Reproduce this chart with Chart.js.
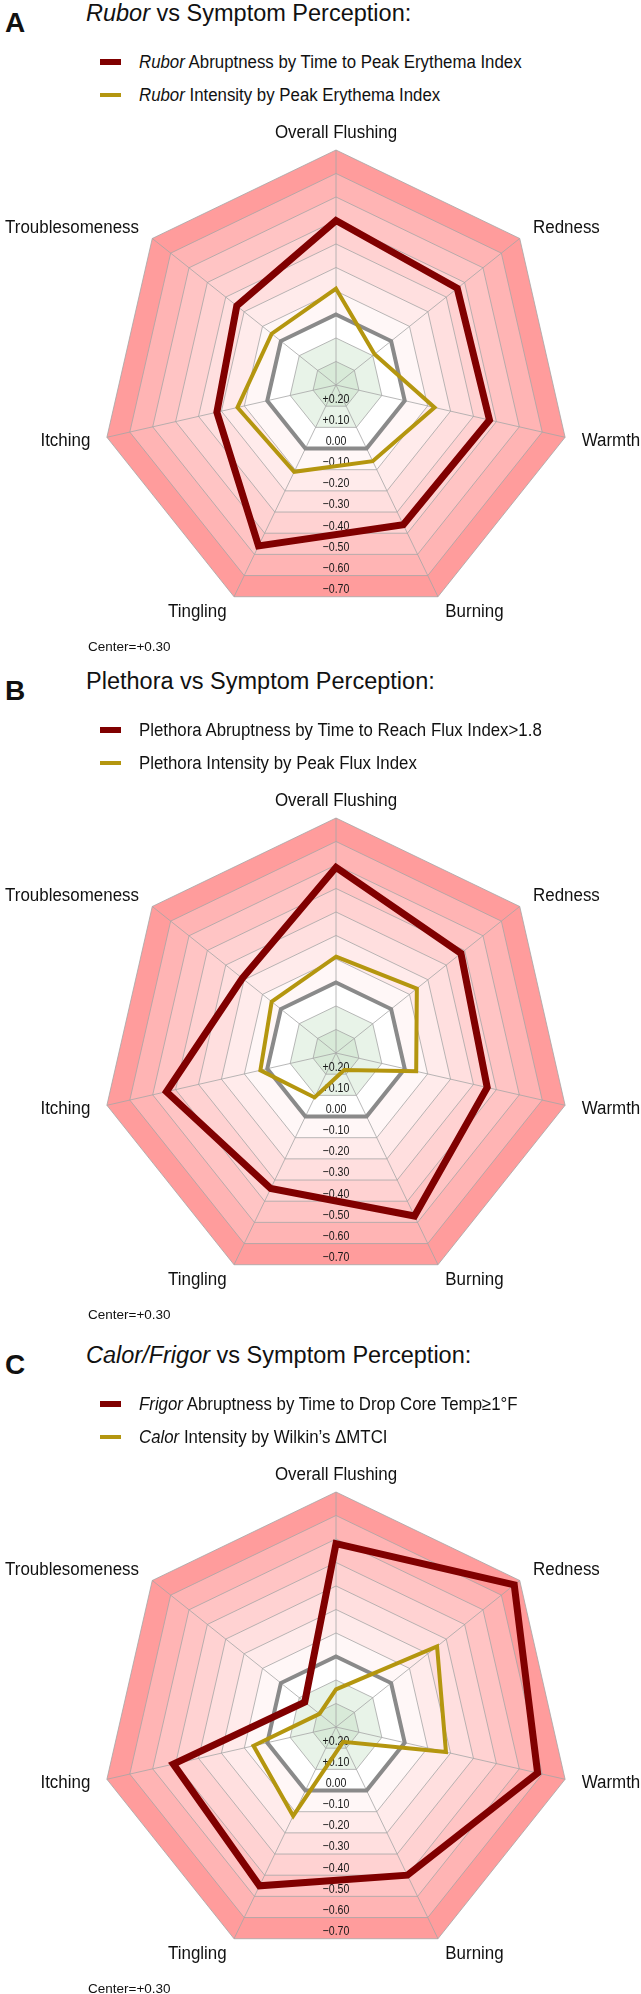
<!DOCTYPE html>
<html>
<head>
<meta charset="utf-8">
<script src="https://cdn.jsdelivr.net/npm/chart.js@4.4.0/dist/chart.umd.min.js"></script>
<style>
    body { margin: 0; width: 641px; height: 1994px; overflow: hidden; background: #fff; color: #111; font-family: "Liberation Sans", Arial, sans-serif; }
    .panel { position: absolute; left: 0; width: 641px; height: 668px; }
    .panel canvas { position: absolute; left: 0; top: 0; }
    .letter { position: absolute; left: 5px; top: 9px; font-size: 28px; line-height: 28px; font-weight: bold; }
    .title { position: absolute; left: 86px; top: 2px; font-size: 23.5px; line-height: 23px; white-space: nowrap; }
    .leg { position: absolute; left: 100px; height: 20px; width: 500px; }
    .leg .sw { position: absolute; left: 0; width: 21px; }
    .leg .t { position: absolute; left: 39px; top: 0; font-size: 18px; line-height: 20px; white-space: nowrap; transform: scaleX(0.935); transform-origin: 0 50%; }
    .center { position: absolute; left: 88px; top: 639px; font-size: 13.5px; line-height: 16px; }
</style>
</head>
<body>

<div class="panel" style="top:0px">
    <div class="letter">A</div>
    <div class="title"><i>Rubor</i> vs Symptom Perception:</div>
    <div class="leg" style="top:52px"><span class="sw" style="top:7px;height:6px;background:#800000"></span><span class="t"><i>Rubor</i> Abruptness by Time to Peak Erythema Index</span></div>
    <div class="leg" style="top:85px"><span class="sw" style="top:8px;height:4px;background:#b4960f"></span><span class="t"><i>Rubor</i> Intensity by Peak Erythema Index</span></div>
    <canvas id="chartA" width="641" height="640"></canvas>
    <div class="center">Center=+0.30</div>
</div>

<div class="panel" style="top:668px">
    <div class="letter">B</div>
    <div class="title">Plethora vs Symptom Perception:</div>
    <div class="leg" style="top:52px"><span class="sw" style="top:7px;height:6px;background:#800000"></span><span class="t">Plethora Abruptness by Time to Reach Flux Index&gt;1.8</span></div>
    <div class="leg" style="top:85px"><span class="sw" style="top:8px;height:4px;background:#b4960f"></span><span class="t">Plethora Intensity by Peak Flux Index</span></div>
    <canvas id="chartB" width="641" height="640"></canvas>
    <div class="center">Center=+0.30</div>
</div>

<div class="panel" style="top:1342px">
    <div class="letter">C</div>
    <div class="title"><i>Calor/Frigor</i> vs Symptom Perception:</div>
    <div class="leg" style="top:52px"><span class="sw" style="top:7px;height:6px;background:#800000"></span><span class="t"><i>Frigor</i> Abruptness by Time to Drop Core Temp≥1°F</span></div>
    <div class="leg" style="top:85px"><span class="sw" style="top:8px;height:4px;background:#b4960f"></span><span class="t"><i>Calor</i> Intensity by Wilkin’s ΔMTCI</span></div>
    <canvas id="chartC" width="641" height="640"></canvas>
    <div class="center">Center=+0.30</div>
</div>

<script>
"use strict";

/** DATA */

// Symptom axes, clockwise from the top
const AXES = ['Overall Flushing', 'Redness', 'Warmth', 'Burning', 'Tingling', 'Itching', 'Troublesomeness'];

// Radial scale: +0.30 at the center, rings every 0.10 out to -0.70
const CENTER_VALUE = 0.30;
const RING_VALUES = [0.20, 0.10, 0.00, -0.10, -0.20, -0.30, -0.40, -0.50, -0.60, -0.70];

// Zero reference polygon
const ZERO_LINE = [0, 0, 0, 0, 0, 0, 0];

// Panel A
const RUBOR_ABRUPTNESS = [-0.40, -0.36, -0.37, -0.36, -0.46, -0.22, -0.24];
const RUBOR_INTENSITY = [-0.11, 0.09, -0.13, -0.06, -0.11, -0.13, -0.05];

// Panel B
const PLETHORA_ABRUPTNESS = [-0.49, -0.38, -0.36, -0.47, -0.34, -0.44, -0.21];
const PLETHORA_INTENSITY = [-0.11, -0.14, -0.05, 0.22, 0.09, -0.03, -0.05];

// Panel C
const FRIGOR_ABRUPTNESS = [-0.48, -0.67, -0.58, -0.40, -0.45, -0.41, 0.13];
const CALOR_INTENSITY = [0.14, -0.25, -0.18, 0.23, -0.12, -0.06, 0.21];


/** STYLES */

const DARK_RED = '#800000';
const GOLD = '#b4960f';
const GRAY = '#8a8a8a';
const GRID = '#a6a6a6';

// Band fills, from the innermost band outwards
const BAND_COLORS = ['#d8ead8', '#e8f3e8', '#ffffff', '#fff7f7', '#ffebeb', '#ffdfdf', '#ffd2d2', '#ffc4c4', '#ffb4b4', '#ff9c9c'];

const FONT = '"Liberation Sans", Arial, sans-serif';


/** HELPERS */

const ringPath = (ctx, scale, value) => {
    const dist = scale.getDistanceFromCenterForValue(value);
    ctx.beginPath();
    AXES.forEach((_, i) => {
        const p = scale.getPointPosition(i, dist);
        if (i === 0) ctx.moveTo(p.x, p.y);
        else ctx.lineTo(p.x, p.y);
    });
    ctx.closePath();
};

const formatTick = v => {
    if (Math.abs(v) < 1e-9) return '0.00';
    return (v > 0 ? '+' : '\u2212') + Math.abs(v).toFixed(2);
};

const drawSqueezed = (ctx, text, x, y, align, squeeze) => {
    ctx.save();
    ctx.translate(x, y);
    ctx.scale(squeeze, 1);
    ctx.textAlign = align;
    ctx.fillText(text, 0, 0);
    ctx.restore();
};


/** PLUGINS */

// Colored bands behind the grid
const bandsPlugin = {
    id: 'bands',
    beforeDraw(chart) {
        const { ctx } = chart;
        const scale = chart.scales.r;
        ctx.save();
        for (let k = RING_VALUES.length - 1; k >= 0; k--) {
            ringPath(ctx, scale, RING_VALUES[k]);
            ctx.fillStyle = BAND_COLORS[k];
            ctx.fill();
        }
        ctx.restore();
    }
};

// Ring values down the bottom, symptom names round the outside
const labelsPlugin = {
    id: 'radarLabels',
    beforeDatasetsDraw(chart) {
        const { ctx } = chart;
        const scale = chart.scales.r;
        const cosEdge = Math.cos(Math.PI / AXES.length);

        ctx.save();
        ctx.fillStyle = '#1a1a1a';
        ctx.textBaseline = 'middle';
        ctx.font = '12.5px ' + FONT;
        RING_VALUES.forEach(v => {
            const y = scale.yCenter + scale.getDistanceFromCenterForValue(v) * cosEdge - 7;
            drawSqueezed(ctx, formatTick(v), scale.xCenter, y, 'center', 0.85);
        });

        ctx.fillStyle = '#111';
        ctx.font = '18px ' + FONT;
        AXES.forEach((name, i) => {
            const p = scale.getPointPosition(i, scale.drawingArea + 17);
            const dx = p.x - scale.xCenter;
            const align = Math.abs(dx) < 5 ? 'center' : (dx > 0 ? 'left' : 'right');
            drawSqueezed(ctx, name, p.x, p.y, align, 0.94);
        });
        ctx.restore();
    }
};


/** INITIALIZE CHARTS */

const makeRadar = (canvasId, abruptness, intensity) => new Chart(document.getElementById(canvasId), {
    type: 'radar',
    data: {
        labels: AXES,
        datasets: [{
            label: 'Abruptness',
            data: abruptness,
            borderColor: DARK_RED,
            borderWidth: 7,
            order: 0
        }, {
            label: 'Intensity',
            data: intensity,
            borderColor: GOLD,
            borderWidth: 4,
            order: 1
        }, {
            label: 'Zero',
            data: ZERO_LINE,
            borderColor: GRAY,
            borderWidth: 4,
            order: 2
        }]
    },
    options: {
        responsive: false,
        animation: false,
        devicePixelRatio: 1,
        layout: {
            padding: { left: 101, right: 70, top: 150, bottom: 20 }
        },
        elements: {
            line: { fill: false, tension: 0, borderJoinStyle: 'miter' },
            point: { radius: 0, hoverRadius: 0 }
        },
        plugins: {
            legend: { display: false },
            tooltip: { enabled: false }
        },
        scales: {
            r: {
                min: RING_VALUES[RING_VALUES.length - 1],
                max: CENTER_VALUE,
                reverse: true,
                startAngle: 0,
                ticks: { display: false, stepSize: 0.1 },
                grid: { color: GRID, lineWidth: 0.8 },
                angleLines: { display: true, color: GRID, lineWidth: 0.8 },
                pointLabels: { display: false }
            }
        }
    },
    plugins: [bandsPlugin, labelsPlugin]
});

makeRadar('chartA', RUBOR_ABRUPTNESS, RUBOR_INTENSITY);
makeRadar('chartB', PLETHORA_ABRUPTNESS, PLETHORA_INTENSITY);
makeRadar('chartC', FRIGOR_ABRUPTNESS, CALOR_INTENSITY);
</script>
</body>
</html>
